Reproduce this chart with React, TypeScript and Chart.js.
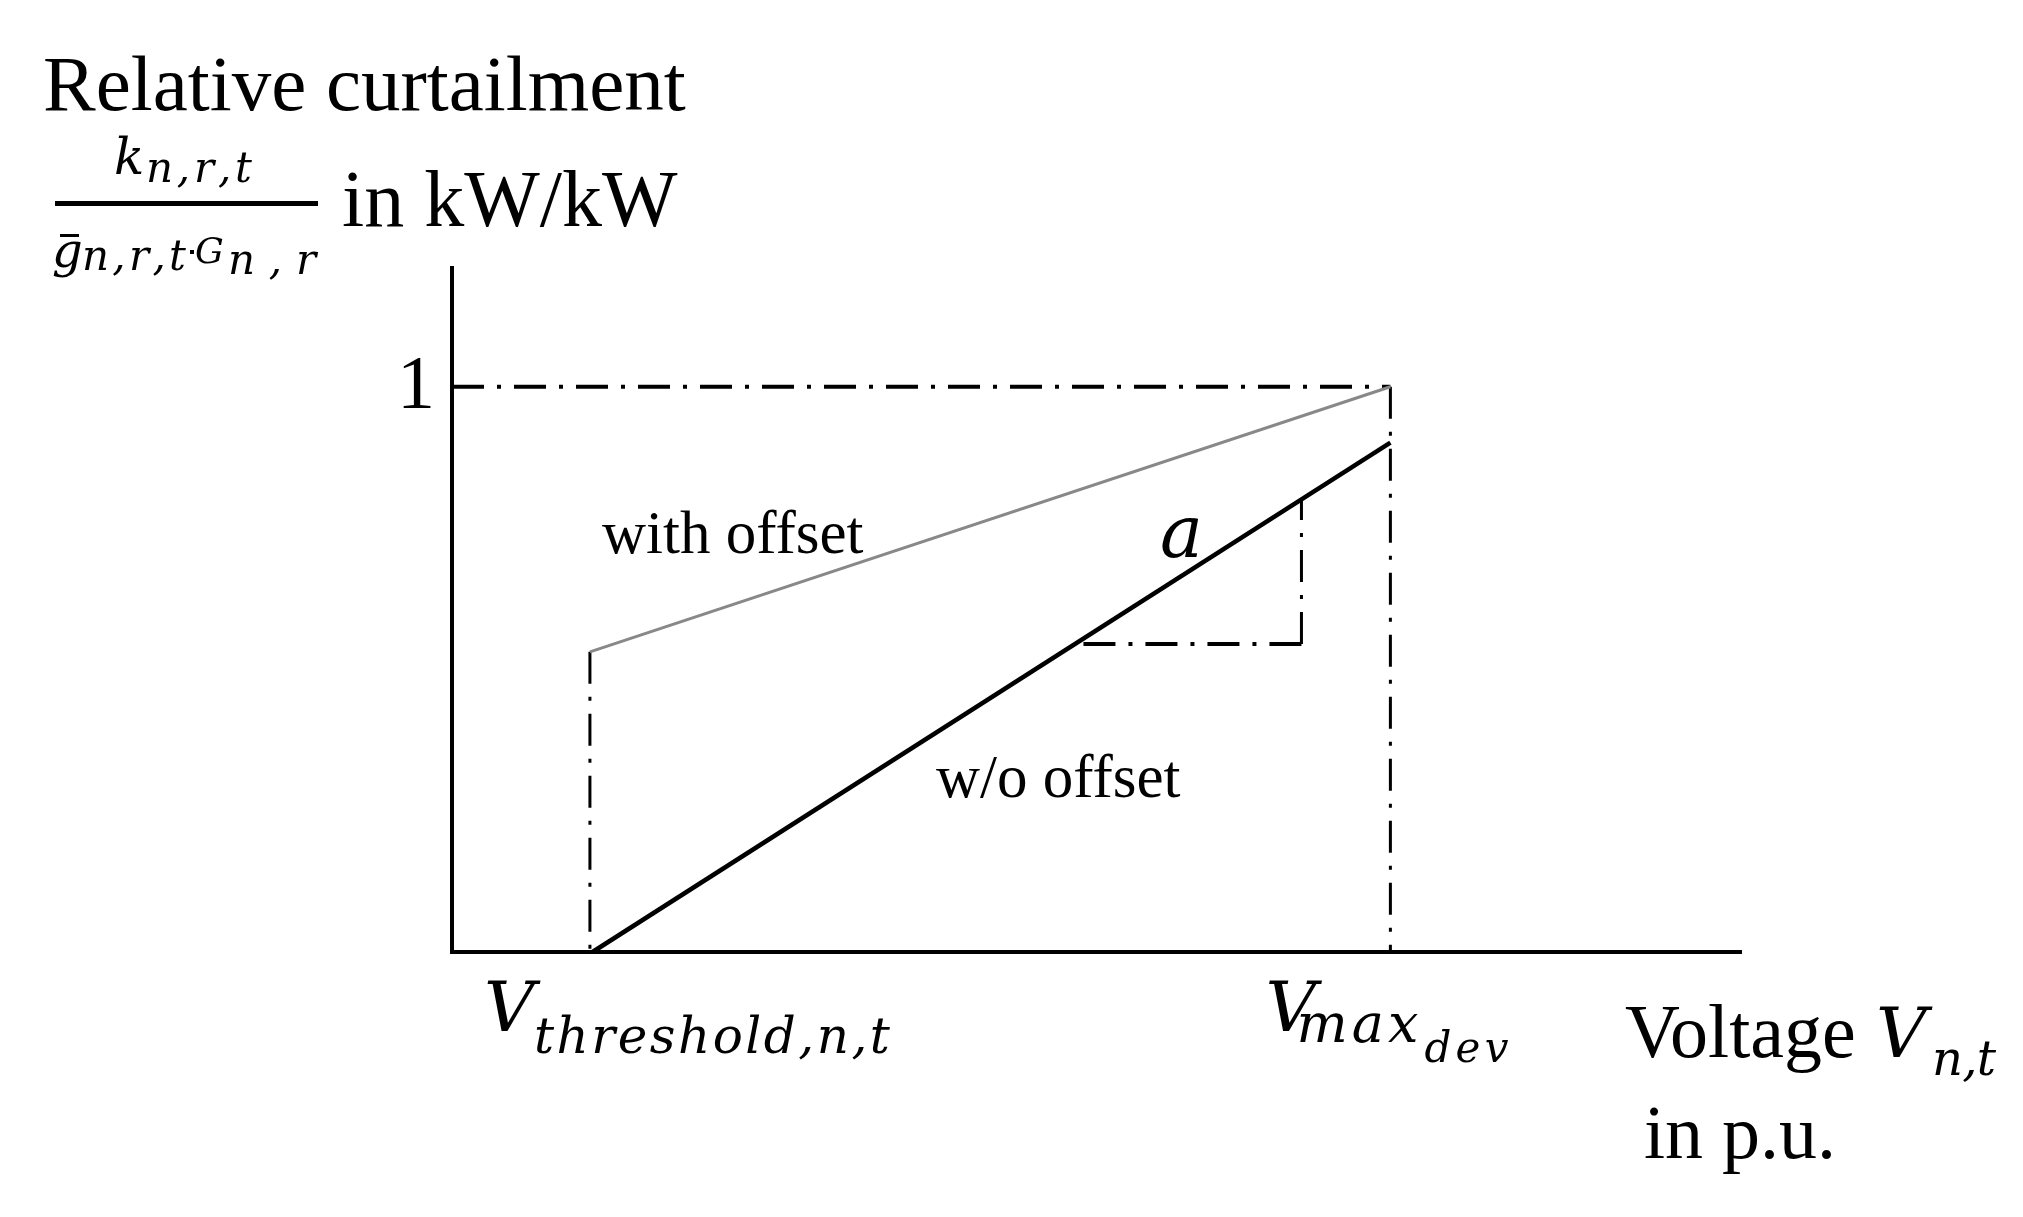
import React, { useEffect, useRef } from 'react';
import { Chart, registerables } from 'chart.js';

Chart.register(...registerables);

// ---- data (normalized voltage on x, relative curtailment on y) ----
const xAxisRange = [0, 1];
const yAxisRange = [0, 1.21];
const yTickValues = [1];
const yTickLabels = ['1'];
const vThreshold = 0.107;
const vMaxDev = 0.728;
const withOffsetX = [0.107, 0.728];
const withOffsetY = [0.531, 1.0];
const withoutOffsetX = [0.109, 0.728];
const withoutOffsetY = [0.0, 0.901];
const slopeX = [0.659, 0.486]; // corner, left end of run
const slopeY = [0.545, 0.8]; // run level, top of rise
const seriesLabels = ['with offset', 'w/o offset'];
const slopeLabel = 'a';

const SERIF = '"Liberation Serif", "Times New Roman", serif';
const MATH = '"DejaVu Serif", serif';
const DASH = [32, 13, 4, 13];

type P = { x: number; y: number };
const pts = (xs: number[], ys: number[]): P[] => xs.map((x, i) => ({ x, y: ys[i] }));

function spaced(ctx: CanvasRenderingContext2D, text: string, x: number, y: number, width?: number) {
  if (!width) {
    ctx.fillText(text, x, y);
    return;
  }
  const chars = Array.from(text);
  const ws = chars.map((c) => ctx.measureText(c).width);
  const natural = ws.reduce((a, b) => a + b, 0);
  const gap = chars.length > 1 ? (width - natural) / (chars.length - 1) : 0;
  let cx = x;
  chars.forEach((c, i) => {
    ctx.fillText(c, cx, y);
    cx += ws[i] + gap;
  });
}

const labelsPlugin = {
  id: 'diagramLabels',
  afterDraw(chart: any) {
    const ctx: CanvasRenderingContext2D = chart.ctx;
    const xs = chart.scales.x;
    const ys = chart.scales.y;
    ctx.save();
    ctx.fillStyle = '#000';
    ctx.textBaseline = 'alphabetic';
    ctx.textAlign = 'left';

    // Y axis title
    ctx.font = `79px ${SERIF}`;
    ctx.fillText('Relative curtailment', 43, 110);
    // fraction numerator
    ctx.font = `italic 50px ${MATH}`;
    ctx.fillText('k', 114, 174);
    ctx.font = `italic 42px ${MATH}`;
    spaced(ctx, 'n,r,t', 146, 182, 106);
    // fraction bar
    ctx.fillRect(55, 201, 263, 5);
    // denominator
    ctx.font = `italic 48px ${MATH}`;
    ctx.fillText('g', 52, 267);
    ctx.fillRect(60, 234, 19, 3);
    ctx.font = `italic 42px ${MATH}`;
    spaced(ctx, 'n,r,t', 82, 270, 104);
    ctx.fillRect(190, 250, 4, 4);
    ctx.font = `italic 36px ${MATH}`;
    ctx.fillText('G', 195, 263);
    ctx.font = `italic 42px ${MATH}`;
    spaced(ctx, 'n,r', 228, 274, 88);
    ctx.font = `80px ${SERIF}`;
    ctx.fillText('in kW/kW', 342, 226);

    // y tick label
    ctx.font = `76px ${SERIF}`;
    ctx.textAlign = 'right';
    yTickValues.forEach((v, i) => {
      ctx.fillText(yTickLabels[i], ys.left - 17, ys.getPixelForValue(v) + 21);
    });
    ctx.textAlign = 'left';

    // series labels
    ctx.font = `61px ${SERIF}`;
    ctx.fillText(seriesLabels[0], 602, 553);
    ctx.fillText(seriesLabels[1], 936, 797);
    ctx.font = `italic 72px ${MATH}`;
    ctx.fillText(slopeLabel, 1160, 557);

    // x axis markers
    const xT = xs.getPixelForValue(vThreshold);
    const xM = xs.getPixelForValue(vMaxDev);
    const base = ys.bottom;
    ctx.font = `italic 70px ${MATH}`;
    ctx.fillText('V', xT - 106, base + 79);
    ctx.font = `italic 50px ${MATH}`;
    spaced(ctx, 'threshold,n,t', xT - 56, base + 101, 356);

    ctx.font = `italic 70px ${MATH}`;
    ctx.fillText('V', xM - 125, base + 79);
    ctx.font = `italic 54px ${MATH}`;
    spaced(ctx, 'max', xM - 94, base + 90, 122);
    ctx.font = `italic 42px ${MATH}`;
    spaced(ctx, 'dev', xM + 34, base + 110, 84);

    // x axis title
    ctx.font = `76px ${SERIF}`;
    ctx.fillText('Voltage', 1625, 1057);
    ctx.font = `italic 70px ${MATH}`;
    ctx.fillText('V', 1876, 1057);
    ctx.font = `italic 48px ${MATH}`;
    spaced(ctx, 'n,t', 1932, 1075, 64);
    ctx.font = `76px ${SERIF}`;
    ctx.fillText('in p.u.', 1644, 1158);

    ctx.restore();
  },
};

export default function App() {
  const ref = useRef<HTMLCanvasElement>(null);
  useEffect(() => {
    if (!ref.current) return;
    const dashed = (data: P[], width: number) => ({
      data,
      borderColor: '#000',
      borderWidth: width,
      borderDash: DASH,
      borderCapStyle: 'butt',
      showLine: true,
      pointRadius: 0,
      clip: false,
      fill: false,
    });
    const chart = new Chart(ref.current, {
      type: 'scatter',
      data: {
        datasets: [
          {
            label: seriesLabels[1],
            data: pts(withoutOffsetX, withoutOffsetY),
            borderColor: '#000',
            borderWidth: 4.5,
            showLine: true,
            pointRadius: 0,
            clip: false,
            fill: false,
          },
          {
            label: seriesLabels[0],
            data: pts(withOffsetX, withOffsetY),
            borderColor: '#888888',
            borderWidth: 3,
            showLine: true,
            pointRadius: 0,
            clip: false,
            fill: false,
          },
          { label: 'unity', ...dashed([{ x: xAxisRange[0], y: yTickValues[0] }, { x: vMaxDev, y: yTickValues[0] }], 4) },
          { label: 'threshold', ...dashed([{ x: vThreshold, y: withOffsetY[0] }, { x: vThreshold, y: 0 }], 3) },
          { label: 'max dev', ...dashed([{ x: vMaxDev, y: yTickValues[0] }, { x: vMaxDev, y: 0 }], 3) },
          { label: 'run', ...dashed([{ x: slopeX[0], y: slopeY[0] }, { x: slopeX[1], y: slopeY[0] }], 4) },
          { label: 'rise', ...dashed([{ x: slopeX[0], y: slopeY[0] }, { x: slopeX[0], y: slopeY[1] }], 3) },
        ] as any,
      },
      options: {
        animation: false,
        responsive: false,
        devicePixelRatio: 1,
        layout: { padding: { left: 452, right: 282, top: 268, bottom: 265 } },
        plugins: { legend: { display: false }, tooltip: { enabled: false } },
        scales: {
          x: {
            type: 'linear',
            min: xAxisRange[0],
            max: xAxisRange[1],
            grid: { display: false, drawTicks: false },
            ticks: { display: false },
            border: { display: true, color: '#000', width: 4 },
          },
          y: {
            type: 'linear',
            min: yAxisRange[0],
            max: yAxisRange[1],
            grid: { display: false, drawTicks: false },
            ticks: { display: false },
            border: { display: true, color: '#000', width: 4 },
          },
        },
      } as any,
      plugins: [labelsPlugin],
    });
    return () => chart.destroy();
  }, []);
  return (
    <div style={{ position: 'fixed', left: 0, top: 0, width: 2023, height: 1217, background: '#fff' }}>
      <canvas ref={ref} width={2023} height={1217} style={{ width: 2023, height: 1217, display: 'block' }} />
    </div>
  );
}
